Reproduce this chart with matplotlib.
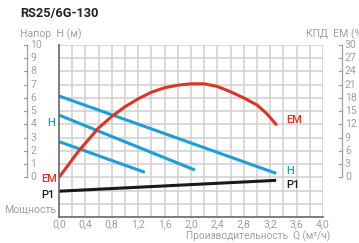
import numpy as np
import matplotlib.pyplot as plt
from matplotlib.transforms import blended_transform_factory

plt.rcParams['font.family'] = ['Roboto', 'DejaVu Sans']

# data
q_h1 = [0.0, 3.29]
h_1 = [6.15, 0.30]
q_h2 = [0.0, 2.06]
h_2 = [4.70, 0.55]
q_h3 = [0.0, 1.30]
h_3 = [2.70, 0.38]

q_em = [0.0, 0.3, 0.6, 0.8, 1.0, 1.2, 1.4, 1.6, 1.8, 2.0, 2.2, 2.4, 2.6, 2.8, 3.0, 3.15, 3.3]
em = [0.0, 6.0, 11.2, 13.8, 16.0, 17.8, 19.3, 20.3, 20.9, 21.2, 21.2, 20.6, 19.4, 18.0, 16.4, 14.4, 11.8]

q_p1 = [0.0, 3.29]
p1 = [-1.05, -0.23]   # no scale on the chart, drawn in H units

h_ticks = list(range(0, 11))
em_ticks = list(range(0, 31, 3))
q_ticks = [0.0, 0.4, 0.8, 1.2, 1.6, 2.0, 2.4, 2.8, 3.2, 3.6, 4.0]

blue = '#1b9fd8'
red = '#e03322'
grey = '#a0a0a0'
fs = 7.6

fig = plt.figure(figsize=(3.59, 2.43), dpi=100)
ax = fig.add_axes([59/359, 1-217/243, 264/359, 172/243])
ax.set_xlim(0, 4.0)
ax.set_ylim(-3, 10)

# grid
for x in np.arange(0.2, 4.01, 0.2):
    ax.axvline(x, color='#cfcfcf', lw=1.1, zorder=0)
for y in range(-2, 11):
    ax.axhline(y, color='#cfcfcf', lw=1.1, zorder=0)
for s in ['top', 'right']:
    ax.spines[s].set_visible(False)
for s in ['left', 'bottom']:
    ax.spines[s].set_color('#666666')
    ax.spines[s].set_linewidth(1.2)
ax.set_xticks([])
ax.set_yticks([])

# curves
ax.plot(q_h1, h_1, color=blue, lw=2.2, solid_capstyle='butt')
ax.plot(q_h2, h_2, color=blue, lw=2.2, solid_capstyle='butt')
ax.plot(q_h3, h_3, color=blue, lw=2.2, solid_capstyle='butt')
ax.plot(q_p1, p1, color='#1a1a1a', lw=2.2, solid_capstyle='butt')
ax.plot(q_em, np.array(em) / 3.0, color=red, lw=2.2, solid_capstyle='butt')

# curve labels
lab = dict(fontsize=8, fontweight='medium', va='center')
ax.text(-0.06, 4.1, 'H', color=blue, ha='right', **lab)
ax.text(-0.03, -0.15, 'EM', color=red, ha='right', **lab)
ax.text(-0.06, -1.35, 'P1', color='#1a1a1a', ha='right', **lab)
ax.text(3.45, 4.3, 'EM', color=red, ha='left', **lab)
ax.text(3.45, 0.5, 'H', color=blue, ha='left', **lab)
ax.text(3.45, -0.55, 'P1', color='#1a1a1a', ha='left', **lab)

# x tick labels
for q in q_ticks:
    ax.text(q, -3.2, ('%.1f' % q).replace('.', ','), color=grey, fontsize=fs,
            ha='center', va='top')

# left bracket axis (H)
tr = blended_transform_factory(ax.transAxes, ax.transData)
ax.plot([-0.121, -0.121], [0, 10], color=grey, lw=0.9, transform=tr, clip_on=False)
for h in h_ticks:
    ax.plot([-0.133, -0.121], [h, h], color=grey, lw=0.9, transform=tr, clip_on=False)
    ax.text(-0.108, h, str(h), color=grey, fontsize=fs, ha='left', va='center',
            transform=tr)

# right bracket axis (EM %)
for e in em_ticks:
    ax.plot([1.061, 1.072], [e / 3.0, e / 3.0], color=grey, lw=0.9, transform=tr,
            clip_on=False)
    ax.text(1.083, e / 3.0, str(e), color=grey, fontsize=fs, ha='left', va='center',
            transform=tr)
ax.plot([1.072, 1.072], [0, 10], color=grey, lw=0.9, transform=tr, clip_on=False)

# titles
fig.text(20/359, 1-14/243, 'RS25/6G-130', fontsize=9.2, fontweight='bold',
         color='#222222', ha='left', va='center')
fig.text(20/359, 1-34/243, 'Напор  H (м)', fontsize=fs, color=grey,
         ha='left', va='center')
fig.text(306/359, 1-34/243, 'КПД  EM (%)', fontsize=fs, color=grey,
         ha='left', va='center')
fig.text(56/359, 1-210/243, 'Мощность', fontsize=fs, color=grey,
         ha='right', va='center')
fig.text(330/359, 1/243, 'Производительность  Q (м³/ч)', fontsize=7.3,
         color=grey, ha='right', va='bottom')

fig.savefig('out.png', dpi=100)
